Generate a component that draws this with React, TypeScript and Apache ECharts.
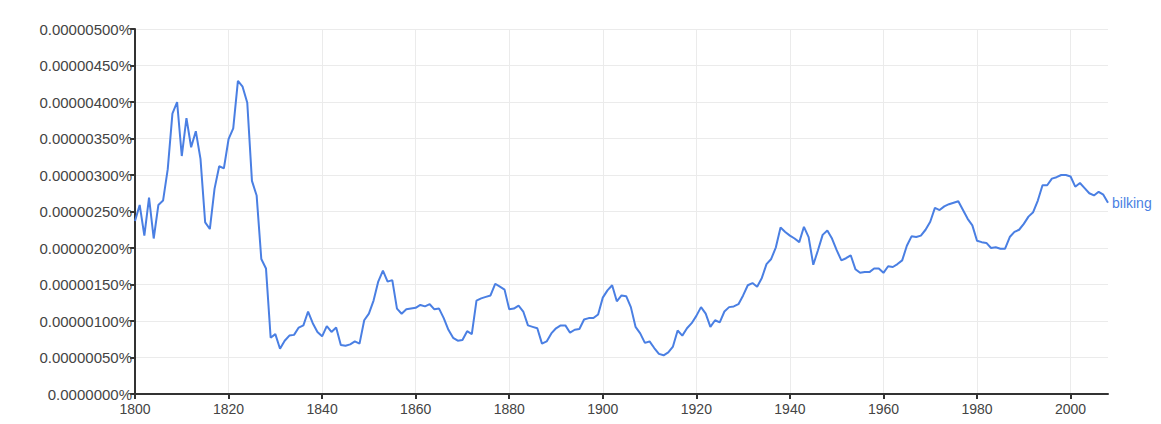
import React, { useEffect, useRef } from "react";
import * as echarts from "echarts";

const startYear = 1800;
const endYear = 2008;
const decadeGrid = [1820, 1840, 1860, 1880, 1900, 1920, 1940, 1960, 1980, 2000];

// frequency in percent, one value per year 1800..2008
const values: number[] = [
  // 1800-1809
  0.00000237, 0.00000259, 0.00000217, 0.00000269, 0.00000213, 0.00000259, 0.00000265, 0.00000308, 0.00000384, 0.000004,
  // 1810-1819
  0.00000326, 0.00000378, 0.00000338, 0.0000036, 0.00000322, 0.00000235, 0.00000226, 0.00000281, 0.00000312, 0.00000309,
  // 1820-1829
  0.00000349, 0.00000364, 0.00000429, 0.00000421, 0.00000399, 0.00000292, 0.00000272, 0.00000185, 0.00000172, 0.00000077,
  // 1830-1839
  0.00000082, 0.00000062, 0.00000073, 0.0000008, 0.00000081, 0.00000091, 0.00000094, 0.00000113, 0.00000097, 0.00000085,
  // 1840-1849
  0.00000079, 0.00000093, 0.00000085, 0.00000091, 0.00000067, 0.00000066, 0.00000068, 0.00000072, 0.00000069, 0.00000101,
  // 1850-1859
  0.0000011, 0.00000128, 0.00000154, 0.00000169, 0.00000154, 0.00000156, 0.00000117, 0.0000011, 0.00000116, 0.00000117,
  // 1860-1869
  0.00000118, 0.00000122, 0.0000012, 0.00000123, 0.00000116, 0.00000117, 0.00000104, 0.00000088, 0.00000077, 0.00000073,
  // 1870-1879
  0.00000074, 0.00000086, 0.00000082, 0.00000128, 0.00000131, 0.00000133, 0.00000135, 0.00000151, 0.00000147, 0.00000143,
  // 1880-1889
  0.00000116, 0.00000117, 0.00000121, 0.00000113, 0.00000094, 0.00000092, 0.0000009, 0.00000069, 0.00000072, 0.00000083,
  // 1890-1899
  0.0000009, 0.00000094, 0.00000094, 0.00000084, 0.00000088, 0.00000089, 0.00000102, 0.00000104, 0.00000104, 0.00000109,
  // 1900-1909
  0.00000132, 0.00000142, 0.00000149, 0.00000127, 0.00000135, 0.00000134, 0.00000119, 0.00000092, 0.00000083, 0.0000007,
  // 1910-1919
  0.00000072, 0.00000063, 0.00000055, 0.00000053, 0.00000057, 0.00000065, 0.00000087, 0.0000008, 0.0000009, 0.00000097,
  // 1920-1929
  0.00000107, 0.00000119, 0.0000011, 0.00000092, 0.00000101, 0.00000098, 0.00000113, 0.00000119, 0.0000012, 0.00000123,
  // 1930-1939
  0.00000135, 0.00000149, 0.00000152, 0.00000147, 0.00000159, 0.00000178, 0.00000185, 0.00000201, 0.00000228, 0.00000222,
  // 1940-1949
  0.00000217, 0.00000213, 0.00000208, 0.00000229, 0.00000215, 0.00000177, 0.00000197, 0.00000218, 0.00000224, 0.00000213,
  // 1950-1959
  0.00000197, 0.00000183, 0.00000186, 0.0000019, 0.00000171, 0.00000166, 0.00000167, 0.00000167, 0.00000172, 0.00000172,
  // 1960-1969
  0.00000166, 0.00000175, 0.00000174, 0.00000178, 0.00000183, 0.00000203, 0.00000216, 0.00000215, 0.00000217, 0.00000225,
  // 1970-1979
  0.00000236, 0.00000255, 0.00000252, 0.00000257, 0.0000026, 0.00000262, 0.00000264, 0.00000252, 0.0000024, 0.00000231,
  // 1980-1989
  0.0000021, 0.00000208, 0.00000207, 0.000002, 0.00000201, 0.00000199, 0.00000199, 0.00000215, 0.00000222, 0.00000225,
  // 1990-1999
  0.00000233, 0.00000243, 0.00000249, 0.00000265, 0.00000286, 0.00000286, 0.00000295, 0.00000297, 0.000003, 0.000003,
  // 2000-2008
  0.00000298, 0.00000284, 0.00000289, 0.00000282, 0.00000275, 0.00000272, 0.00000277, 0.00000273, 0.00000262,
];

const seriesName = "bilking";
const lineColor = "#4a7fe3";
const font = "Liberation Sans, Arial, sans-serif";

export default function App() {
  const ref = useRef<HTMLDivElement>(null);

  useEffect(() => {
    if (!ref.current) return;
    const chart = echarts.init(ref.current, undefined, { renderer: "svg" });
    const data = values.map((v, i) => [startYear + i, v]);
    chart.setOption({
      animation: false,
      grid: { left: 127, right: 45, top: 21, bottom: 20, containLabel: false },
      xAxis: {
        type: "value",
        min: startYear,
        max: endYear,
        interval: 20,
        axisLine: { show: true, onZero: false, lineStyle: { color: "#333", width: 2 } },
        axisTick: { show: true, length: 5, lineStyle: { color: "#333", width: 2 } },
        axisLabel: {
          color: "#444",
          fontFamily: font,
          fontSize: 14,
          margin: 8,
          showMaxLabel: false,
          formatter: (v: number) => (v === endYear ? "" : String(v)),
        },
        splitLine: { show: false },
      },
      yAxis: {
        type: "value",
        min: 0,
        max: 0.000005,
        interval: 0.0000005,
        axisLine: { show: true, lineStyle: { color: "#333", width: 2 } },
        axisTick: { show: true, length: 5, lineStyle: { color: "#333", width: 2 } },
        axisLabel: {
          color: "#444",
          fontFamily: font,
          fontSize: 15,
          margin: 3,
          formatter: (v: number) => (v === 0 ? "0.0000000%" : v.toFixed(8) + "%"),
        },
        splitLine: { show: true, lineStyle: { color: "#ebebeb", width: 1 } },
      },
      series: [
        {
          name: "grid",
          type: "line",
          data: [],
          z: 0,
          silent: true,
          markLine: {
            silent: true,
            z: 0,
            zlevel: 0,
            symbol: "none",
            label: { show: false },
            lineStyle: { color: "#ebebeb", width: 1, type: "solid" },
            data: decadeGrid.map((y) => ({ xAxis: y })),
          },
        },
        {
          name: seriesName,
          type: "line",
          data,
          z: 6,
          showSymbol: false,
          symbol: "none",
          lineStyle: { color: lineColor, width: 2 },
          itemStyle: { color: lineColor },
          endLabel: {
            show: true,
            formatter: () => seriesName,
            color: lineColor,
            fontFamily: font,
            fontSize: 14,
            distance: 4,
          },
        },
      ],
    });
    return () => chart.dispose();
  }, []);

  return <div ref={ref} style={{ width: 1145, height: 408 }} />;
}
